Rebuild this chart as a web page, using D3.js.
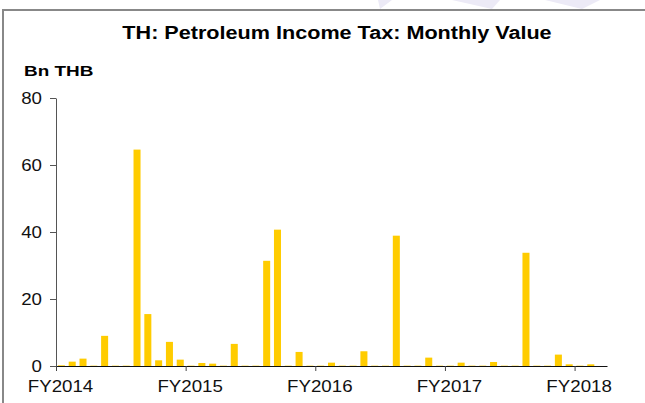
<!DOCTYPE html>
<html>
<head>
<meta charset="utf-8">
<script src="https://cdn.jsdelivr.net/npm/d3@7"></script>
<style>
  body { margin: 0; background: #fff; }
  svg { display: block; font-family: "Liberation Sans", Arial, sans-serif; }
  .y-axis .domain { stroke: #555; }
  .y-axis .tick line { stroke: #555; }
  .x-axis .domain { stroke: #111; }
  .x-axis .tick line { stroke: #444; }
  .tick text { fill: #111; }
</style>
</head>
<body>
<svg id="chart" width="645" height="403"></svg>
<script>
// months Oct 2013 .. Dec 2017 (Thai fiscal years start in October)
const months = d3.range(51).map(i => d3.timeFormat("%Y-%m")(new Date(2013, 9 + i, 1)));

// Bn THB
const values = [
  0.2, 1.3, 2.2, 0.1, 9.0, 0.1, 0.1, 64.6, 15.5, 1.7, 7.2, 1.9,
  0.1, 0.9, 0.7, 0.1, 6.6, 0.1, 0.1, 31.4, 40.7, 0.1, 4.2, 0.1,
  0.1, 1.0, 0.1, 0.1, 4.4, 0.1, 0.1, 38.9, 0.1, 0.1, 2.5, 0.1,
  0.1, 1.0, 0.1, 0.1, 1.2, 0.1, 0.1, 33.8, 0.1, 0.1, 3.4, 0.5,
  0.1, 0.5, 0
];

const fyTicks = [0, 12, 24, 36, 48];
const fyLabels = ["FY2014", "FY2015", "FY2016", "FY2017", "FY2018"];
const yTicks = [0, 20, 40, 60, 80];

const svg = d3.select("#chart");
const plotLeft = 56, plotRight = 607, plotTop = 98, plotBottom = 366;

// the original text is a bit wider than Arial, stretch it sideways
function widen(sel, k) {
  sel.each(function () {
    const w = this.getComputedTextLength();
    d3.select(this).attr("textLength", w * k).attr("lengthAdjust", "spacingAndGlyphs");
  });
}

// frame + faint watermark strip above it
const wm = [[378, 0, 392, 0, 380, 9], [452, 0, 500, 0, 492, 9], [545, 0, 600, 0, 582, 9]];
svg.selectAll(".wm").data(wm).enter().append("polygon")
  .attr("points", d => `${d[0]},${d[1]} ${d[2]},${d[3]} ${d[4]},${d[5]}`)
  .attr("fill", "#eceaf6");
svg.append("path")
  .attr("d", "M3,403 V10 H645")
  .attr("fill", "none").attr("stroke", "#888").attr("stroke-width", 2);

const x = d3.scaleBand().domain(months).range([plotLeft, plotRight])
  .paddingInner(0.35).paddingOuter(0.175);
const xIdx = d3.scaleLinear().domain([0, months.length]).range([plotLeft, plotRight]);
const y = d3.scaleLinear().domain([0, 80]).range([plotBottom, plotTop]);

// bars
svg.append("g").selectAll("rect")
  .data(values.map((v, i) => ({ m: months[i], v })))
  .enter().append("rect")
  .attr("x", d => x(d.m))
  .attr("width", x.bandwidth())
  .attr("y", d => y(d.v))
  .attr("height", d => y(0) - y(d.v))
  .attr("fill", "#ffcc00");

// axes
svg.append("g").attr("class", "x-axis")
  .attr("transform", `translate(0,${plotBottom})`)
  .call(d3.axisBottom(xIdx).tickValues(fyTicks).tickSize(5).tickSizeOuter(0)
    .tickFormat((d, i) => fyLabels[i]))
  .call(g => g.selectAll("text").attr("font-size", 17).attr("x", 4).attr("y", 8).attr("dy", "1.05em"))
  .call(g => widen(g.selectAll("text"), 1.1));

svg.append("g").attr("class", "y-axis")
  .attr("transform", `translate(${plotLeft},0)`)
  .call(d3.axisLeft(y).tickValues(yTicks).tickSize(6).tickSizeOuter(0))
  .call(g => g.selectAll("text").attr("font-size", 17).attr("x", -14))
  .call(g => widen(g.selectAll("text"), 1.1));

// titles
svg.append("text")
  .attr("x", 337).attr("y", 39)
  .attr("text-anchor", "middle")
  .attr("font-size", 18).attr("font-weight", "bold")
  .text("TH: Petroleum Income Tax: Monthly Value")
  .call(t => widen(t, 1.2));

svg.append("text")
  .attr("x", 24).attr("y", 76)
  .attr("font-size", 15).attr("font-weight", "bold")
  .text("Bn THB")
  .call(t => widen(t, 1.26));
</script>
</body>
</html>
